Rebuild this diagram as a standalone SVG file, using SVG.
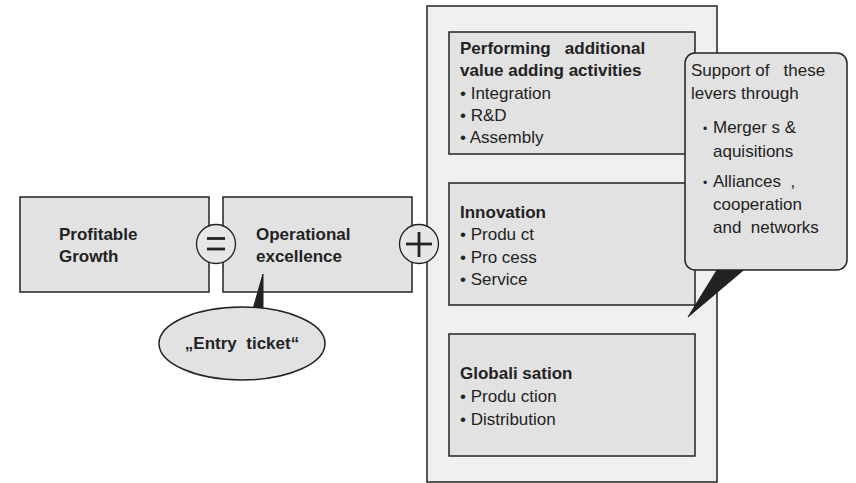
<svg xmlns="http://www.w3.org/2000/svg" width="856" height="483" viewBox="0 0 856 483">
  <style>
    .box { fill: #e2e2e2; stroke: #222; stroke-width: 1.5; }
    .outer { fill: #f0f0f0; stroke: #222; stroke-width: 1.5; }
    .tail { fill: #222; stroke: #222; stroke-width: 1; }
    .op { fill: #e6e6e6; stroke: #222; stroke-width: 1.3; }
    .sign { stroke: #222; stroke-width: 2.8; fill: none; }
    text { font-family: "Liberation Sans", Arial, sans-serif; font-size: 17px; fill: #222; white-space: pre; }
    .b { font-weight: bold; }
    .dot { font-size: 12px; }
  </style>
  <rect width="856" height="483" fill="#ffffff"/>

  <!-- Levers container -->
  <g id="levers">
    <rect class="outer" x="427" y="6" width="290" height="476"/>
  </g>

  <g id="value-adding">
    <rect class="box" x="449" y="32" width="246" height="122"/>
    <text class="b" x="460" y="54">Performing   additional</text>
    <text class="b" x="460" y="76">value adding activities</text>
    <text x="460" y="99">• Integration</text>
    <text x="460" y="121">• R&amp;D</text>
    <text x="460" y="143">• Assembly</text>
  </g>

  <g id="innovation">
    <rect class="box" x="449" y="183" width="246" height="122"/>
    <text class="b" x="460" y="218">Innovation</text>
    <text x="460" y="240">• Produ ct</text>
    <text x="460" y="263">• Pro cess</text>
    <text x="460" y="285">• Service</text>
  </g>

  <g id="globalisation">
    <rect class="box" x="449" y="334" width="246" height="122"/>
    <text class="b" x="460" y="379">Globali sation</text>
    <text x="460" y="402">• Produ ction</text>
    <text x="460" y="425">• Distribution</text>
  </g>

  <!-- Support callout -->
  <g id="support">
    <polygon class="tail" points="722,262 753,262 688,317"/>
    <rect class="box" x="685" y="53" width="162" height="217" rx="10" ry="10"/>
    <text x="691" y="76">Support of   these</text>
    <text x="691" y="99">levers through</text>
    <text x="703" y="133"><tspan class="dot">•</tspan></text>
    <text x="713" y="133">Merger s &amp;</text>
    <text x="713" y="157">aquisitions</text>
    <text x="703" y="187"><tspan class="dot">•</tspan></text>
    <text x="713" y="187">Alliances  ,</text>
    <text x="713" y="210">cooperation</text>
    <text x="713" y="233">and  networks</text>
  </g>

  <g id="profitable-growth">
    <rect class="box" x="20" y="197" width="189" height="95"/>
    <text class="b" x="59" y="240">Profitable</text>
    <text class="b" x="59" y="262">Growth</text>
  </g>

  <g id="operational-excellence">
    <rect class="box" x="223" y="197" width="189" height="95"/>
    <text class="b" x="256" y="240">Operational</text>
    <text class="b" x="256" y="262">excellence</text>
  </g>

  <!-- Operators between the boxes -->
  <g id="connectors">
    <g id="equals">
      <circle class="op" cx="216" cy="244" r="19.5"/>
      <line class="sign" x1="207" y1="238.5" x2="225" y2="238.5"/>
      <line class="sign" x1="207" y1="249" x2="225" y2="249"/>
    </g>
    <g id="plus">
      <circle class="op" cx="419" cy="244" r="19.5"/>
      <line class="sign" x1="406" y1="244" x2="432" y2="244"/>
      <line class="sign" x1="419" y1="232" x2="419" y2="257"/>
    </g>
  </g>

  <!-- Entry ticket bubble -->
  <g id="entry-ticket">
    <polygon class="tail" points="251,316 263,274 263,316"/>
    <ellipse class="box" cx="242" cy="343.5" rx="83" ry="36.5"/>
    <text class="b" x="242" y="349" text-anchor="middle">„Entry  ticket“</text>
  </g>
</svg>
